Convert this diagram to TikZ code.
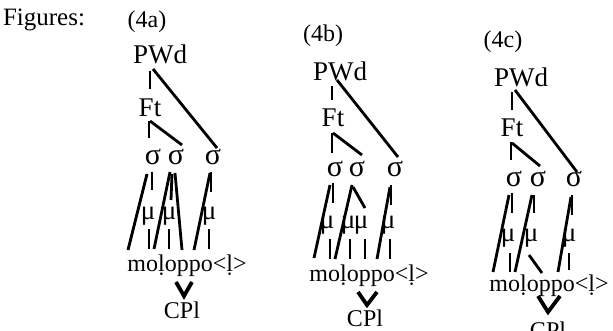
\documentclass[tikz,border=0pt]{standalone}
\usepackage{fontspec}
\setmainfont{Liberation Serif}
\begin{document}
\begin{tikzpicture}[x=1pt,y=-1pt,
  ln/.style={line width=2.8pt},
  vee/.style={line width=3.8pt, line join=miter},
  tx/.style={inner sep=0pt, anchor=base},
  lab/.style={tx, font=\fontsize{24}{24}\selectfont},
  fg/.style={tx, font=\fontsize{25}{25}\selectfont},
  big/.style={tx, font=\fontsize{27}{27}\selectfont},
  sig/.style={tx, font=\fontsize{30}{30}\selectfont},
  mu/.style={tx, font=\fontsize{27}{27}\selectfont},
  seg/.style={tx, font=\fontsize{24}{24}\selectfont},
]
\useasboundingbox (0,0) rectangle (613,331);
\node[fg] (fig) at (44,26) {Figures:};

% ---------- tree 4a ----------
\node[lab] (labA) at (147,28) {(4a)};
\node[big] (pwdA) at (160,64) {PWd};
\node[big] (ftA) at (150,117) {Ft};
\node[sig] (s1A) at (153,165) {σ};
\node[sig] (s2A) at (176,165) {σ};
\node[sig] (s3A) at (213,165) {σ};
\node[mu] (m1A) at (148,219) {μ};
\node[mu] (m2A) at (169,219) {μ};
\node[mu] (m3A) at (209,219) {μ};
\node[seg] (segA) at (187,271) {moḷoppo<ḷ>};
\node[lab] (cplA) at (182,318) {CPl};
\draw[ln] (150,71) -- (150,89);
\draw[ln] (153,69) -- (217,148);
\draw[ln] (149,121) -- (149,138);
\draw[ln] (150,121) -- (182,145);
\draw[ln] (152,172) -- (152,190);
\draw[ln] (147,174) -- (128,250);
\draw[ln] (149,229) -- (149,249);
\draw[ln] (170,172) -- (154,249);
\draw[ln] (172,174) -- (171,200);
\draw[ln] (169,229) -- (169,249);
\draw[ln] (175,173) -- (182,250);
\draw[ln] (210,173) -- (194,250);
\draw[ln] (211,172) -- (211,192);
\draw[ln] (209,229) -- (209,249);
\draw[vee] (176,282) -- (184,296) -- (192,282);

% ---------- tree 4b ----------
\node[lab] (labB) at (323,42) {(4b)};
\node[big] (pwdB) at (340,81) {PWd};
\node[big] (ftB) at (333,127) {Ft};
\node[sig] (s1B) at (335,177) {σ};
\node[sig] (s2B) at (357,177) {σ};
\node[sig] (s3B) at (395,177) {σ};
\node[mu] (m1B) at (327,229) {μ};
\node[mu] (m2B) at (348,229) {μ};
\node[mu] (m3B) at (361,229) {μ};
\node[mu] (m4B) at (388,229) {μ};
\node[seg] (segB) at (369,281) {moḷoppo<ḷ>};
\node[lab] (cplB) at (365,326) {CPl};
\draw[ln] (332,86) -- (332,100);
\draw[ln] (337,80) -- (398,157);
\draw[ln] (332,133) -- (332,153);
\draw[ln] (333,133) -- (362,155);
\draw[ln] (333,183) -- (333,203);
\draw[ln] (330,185) -- (314,258);
\draw[ln] (330,239) -- (330,259);
\draw[ln] (352,185) -- (335,259);
\draw[ln] (353,187) -- (365,208);
\draw[ln] (350,239) -- (350,259);
\draw[ln] (365,239) -- (365,259);
\draw[ln] (390,187) -- (377,259);
\draw[ln] (391,185) -- (391,205);
\draw[ln] (390,239) -- (390,259);
\draw[vee] (358,292) -- (367,305) -- (377,292);

% ---------- tree 4c ----------
\node[lab] (labC) at (503,48) {(4c)};
\node[big] (pwdC) at (521,87) {PWd};
\node[big] (ftC) at (512,137) {Ft};
\node[sig] (s1C) at (514,187) {σ};
\node[sig] (s2C) at (538,187) {σ};
\node[sig] (s3C) at (574,187) {σ};
\node[mu] (m1C) at (508,241) {μ};
\node[mu] (m2C) at (531,241) {μ};
\node[mu] (m3C) at (569,241) {μ};
\node[seg] (segC) at (549,291) {moḷoppo<ḷ>};
\node[lab] (cplC) at (548,338) {CPl};
\draw[ln] (512,92) -- (512,110);
\draw[ln] (515,90) -- (577,172);
\draw[ln] (511,142) -- (511,160);
\draw[ln] (512,143) -- (540,166);
\draw[ln] (512,193) -- (512,213);
\draw[ln] (509,195) -- (493,272);
\draw[ln] (510,253) -- (510,272);
\draw[ln] (532,195) -- (515,272);
\draw[ln] (534,195) -- (534,213);
\draw[ln] (529,255) -- (542,273);
\draw[ln] (571,197) -- (558,272);
\draw[ln] (572,195) -- (572,215);
\draw[ln] (569,253) -- (569,270);
\draw[vee] (538,296) -- (548,312) -- (560,296);
\end{tikzpicture}
\end{document}
